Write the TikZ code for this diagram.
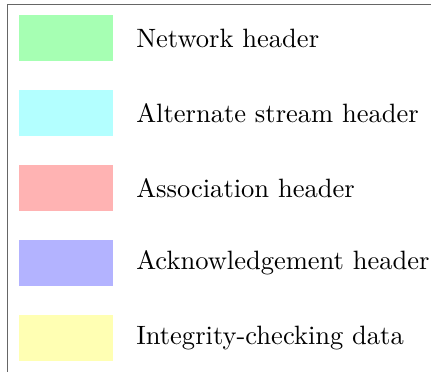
\documentclass[tikz,border=0pt]{standalone}
\usepackage{tikz}
\usetikzlibrary{positioning}
\definecolor{nethdr}{RGB}{166,255,179}
\definecolor{althdr}{RGB}{179,255,255}
\definecolor{asshdr}{RGB}{255,179,179}
\definecolor{ackhdr}{RGB}{179,179,255}
\definecolor{chkdata}{RGB}{255,255,179}

\begin{document}
\begin{tikzpicture}[x=0.377pt, y=0.377pt,
  swatch/.style={minimum width=35.4pt, minimum height=17.3pt, inner sep=0pt},
  entry/.style={inner sep=0pt, right=8.4pt of #1}]
\clip (0,0) rectangle (431,-372);
% frame of the key
\draw[gray!80!black, line width=0.7pt] (7.5,-400) |- (460,-4.5);
% colour swatches and their labels
\foreach \name/\col/\txt [count=\i] in {net/nethdr/Network header,
    alt/althdr/Alternate stream header,
    assoc/asshdr/Association header,
    ack/ackhdr/Acknowledgement header,
    chk/chkdata/Integrity-checking data}{
  \node[swatch, fill=\col] (\name) at (66,{-38-75*(\i-1)}) {};
  \node[entry=\name] (\name-txt) {\txt};
}
\end{tikzpicture}
\end{document}
